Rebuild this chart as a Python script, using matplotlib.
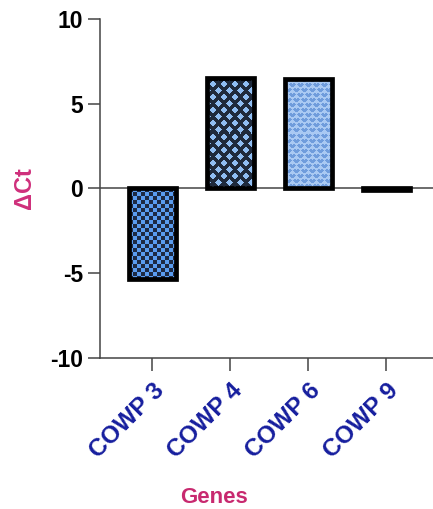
import numpy as np
import matplotlib
matplotlib.use('Agg')
import matplotlib.pyplot as plt
import matplotlib.transforms as mtransforms
from matplotlib.colors import to_rgb

genes = ['COWP 3', 'COWP 4', 'COWP 6', 'COWP 9']
delta_ct = [-5.35, 6.5, 6.45, -0.12]

# fill styles per bar: (pattern, background colour, pattern colour)
patterns = ['checker', 'diamond', 'heart', 'solid']
back_colors = ['#5a9cf0', '#1f2a3c', '#a9c9f3', '#111111']
mark_colors = ['#1d2a44', '#8fbdf2', '#6f9cdc', '#111111']

plt.rcParams['font.family'] = ['Liberation Sans', 'DejaVu Sans']
plt.rcParams['font.weight'] = 'bold'


def make_texture(kind, h, w, back, mark):
    yy, xx = np.mgrid[0:h, 0:w]
    if kind == 'checker':
        m = ((yy // 4 + xx // 4) % 2) == 0
    elif kind == 'diamond':
        px, py, r = 11.0, 13.0, 3.2
        u1 = xx % px - px / 2
        v1 = yy % py - py / 2
        u2 = (xx + px / 2) % px - px / 2
        v2 = (yy + py / 2) % py - py / 2
        m = (np.abs(u1) + np.abs(v1) < r) | (np.abs(u2) + np.abs(v2) < r)
    elif kind == 'heart':
        tile = np.array([
            [0, 1, 1, 0, 1, 1, 0, 0],
            [1, 1, 1, 1, 1, 1, 1, 0],
            [0, 1, 1, 1, 1, 1, 0, 0],
            [0, 0, 1, 1, 1, 0, 0, 0],
            [0, 0, 0, 0, 0, 0, 0, 0],
            [1, 1, 0, 0, 0, 1, 1, 0],
            [1, 1, 1, 0, 1, 1, 1, 1],
            [1, 1, 0, 0, 0, 1, 1, 1],
            [1, 0, 0, 0, 0, 0, 1, 1],
            [0, 0, 0, 0, 0, 0, 0, 0],
        ], dtype=bool)
        m = tile[yy % tile.shape[0], xx % tile.shape[1]]
    else:
        m = np.zeros((h, w), dtype=bool)
    img = np.where(m[..., None], np.array(to_rgb(mark)), np.array(to_rgb(back)))
    return img


fig = plt.figure(figsize=(4.33, 5.09), dpi=100)
ax = fig.add_axes([0.231, 0.297, 0.80, 0.666])

x = np.arange(len(genes))
width = 0.6

ax.set_ylim(-10, 10)
ax.set_xlim(-0.67, 3.77)

bars = ax.bar(x, delta_ct, width, facecolor='none', edgecolor='black',
              linewidth=3.4, zorder=3)

# fill each bar with its texture, clipped to the bar
for i, p in enumerate(bars):
    bb = p.get_bbox()
    x0, x1 = min(bb.x0, bb.x1), max(bb.x0, bb.x1)
    y0, y1 = min(bb.y0, bb.y1), max(bb.y0, bb.y1)
    corners = ax.transData.transform([[x0, y0], [x1, y1]])
    w_px = max(int(round(abs(corners[1, 0] - corners[0, 0]))), 1)
    h_px = max(int(round(abs(corners[1, 1] - corners[0, 1]))), 1)
    tex = make_texture(patterns[i], h_px, w_px, back_colors[i], mark_colors[i])
    im = ax.imshow(tex, extent=[x0, x1, y0, y1], interpolation='nearest',
                   aspect='auto', zorder=2)
    im.set_clip_path(p)

ax.set_ylim(-10, 10)
ax.set_xlim(-0.67, 3.77)

ax.axhline(0, color='#444444', linewidth=1.1, zorder=1)

ax.set_yticks([-10, -5, 0, 5, 10])
ax.set_yticklabels(['-10', '-5', '0', '5', '10'], fontsize=16.5, fontweight='bold')
ax.set_xticks(x)
ax.set_xticklabels(genes, rotation=45, ha='right', rotation_mode='anchor',
                   fontsize=17.5, fontweight='bold', color='#161e9e')

# nudge the rotated gene names a little left/down
shift = mtransforms.ScaledTranslation(-4 / 100, -2 / 100, fig.dpi_scale_trans)
for lab in ax.get_xticklabels():
    lab.set_transform(lab.get_transform() + shift)

for side in ['top', 'right']:
    ax.spines[side].set_visible(False)
for side in ['left', 'bottom']:
    ax.spines[side].set_color('#444444')
    ax.spines[side].set_linewidth(1.1)
ax.tick_params(axis='both', direction='out', length=9, width=1.1, color='#444444')
ax.tick_params(axis='y', pad=3)
ax.tick_params(axis='x', pad=6)

ax.set_ylabel('ΔCt', fontsize=17, fontweight='bold', color='#cf2f7b')
ax.yaxis.set_label_coords(-0.185, 0.5)
ax.set_xlabel('Genes', fontsize=16, fontweight='bold', color='#c8296f')
ax.xaxis.set_label_coords(0.33, -0.381)

plt.savefig('out.png', dpi=100)
